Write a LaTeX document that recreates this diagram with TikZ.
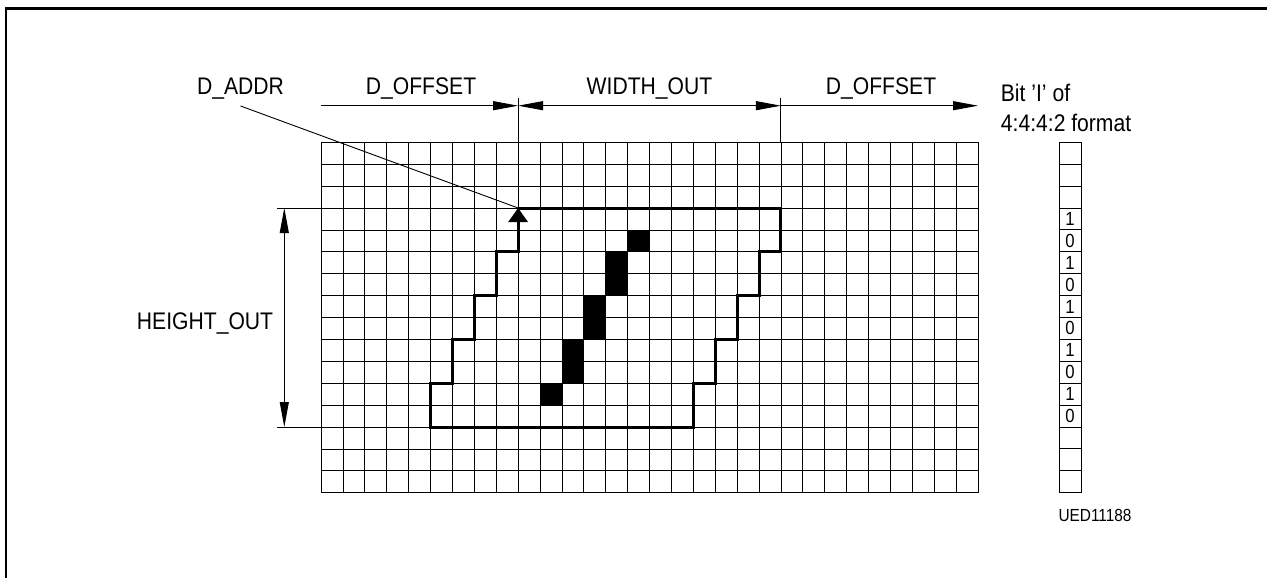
\documentclass[tikz,border=0pt]{standalone}
\usepackage{fontspec}
\setmainfont{Liberation Sans}[FakeStretch=0.88]
\usetikzlibrary{positioning, arrows.meta}

\begin{document}
\begin{tikzpicture}[
    x=1pt, y=-1pt,
    >={Triangle[length=25pt, width=9pt]},
    txt/.style={
        font=\fontsize{24}{30}\selectfont,
        inner sep=0pt
    },
    gridline/.style={
        line width=0.8pt
    },
    dimline/.style={
        line width=0.9pt
    },
    outline/.style={
        line width=3pt,
        line join=miter
    },
    bitbox/.style={
        rectangle,
        draw,
        line width=0.9pt,
        minimum width=21.9pt,
        minimum height=21.9pt,
        inner sep=0pt,
        font=\fontsize{19}{19}\selectfont
    }
]

% Page size and frame
\useasboundingbox (0,0) rectangle (1267,578);
\draw[line width=2.7pt] (6,578) -- (6,8.7) -- (1267,8.7);

% Labels
\node[txt, anchor=base] (daddr) at (240.5,95) {D\_ADDR};
\node[txt, anchor=base] (offsetl) at (421,95) {D\_OFFSET};
\node[txt, anchor=base] (widthout) at (649.5,95) {WIDTH\_OUT};
\node[txt, anchor=base] (offsetr) at (881,95) {D\_OFFSET};
\node[txt, anchor=base east] (heightout) at (273.3,329.3) {HEIGHT\_OUT};

% Pixel grid
\begin{scope}[shift={(321,142.3)}, x=21.9pt, y=-21.9pt]
    \foreach \c in {0,...,30}
        \draw[gridline] (\c,0) -- (\c,16);
    \foreach \r in {0,...,16}
        \draw[gridline] (0,\r) -- (30,\r);
    % set pixels of the line
    \foreach \c/\r in {14/4, 13/5, 13/6, 12/7, 12/8, 11/9, 11/10, 10/11}
        \fill (\c,\r) rectangle ++(1,1);
    \coordinate (c0) at (0,0);
    \coordinate (c9) at (9,0);
    \coordinate (c21) at (21,0);
    \coordinate (c30) at (30,0);
    \coordinate (r3) at (0,3);
    \coordinate (r13) at (0,13);
    \coordinate (addr) at (9,3);

    % D_ADDR pointer
    \draw[dimline] ([yshift=-6pt]daddr.south) -- (addr);

    % Output window
    \draw[outline, -{Triangle[length=14pt, width=19pt]}] (addr) -- (21,3) -- (21,5) -- (20,5)
        -- (20,7) -- (19,7) -- (19,9) -- (18,9) -- (18,11) -- (17,11) -- (17,13)
        -- (5,13) -- (5,11) -- (6,11) -- (6,9) -- (7,9) -- (7,7) -- (8,7)
        -- (8,5) -- (9,5) -- (addr);
\end{scope}

% Width dimensions
\coordinate (dimy) at (0,105.7);
\coordinate (ticky) at (0,98.3);
\draw[dimline] (c9) -- (c9 |- ticky);
\draw[dimline] (c21) -- (c21 |- ticky);
\draw[dimline, ->] (c0 |- dimy) -- (c9 |- dimy);
\draw[dimline, <->] (c9 |- dimy) -- (c21 |- dimy);
\draw[dimline, ->] (c21 |- dimy) -- (c30 |- dimy);

% Height dimension
\coordinate (dimx) at (284.3,0);
\coordinate (tickx) at (277.3,0);
\draw[dimline] (r3) -- (r3 -| tickx);
\draw[dimline] (r13) -- (r13 -| tickx);
\draw[dimline, <->] (r3 -| dimx) -- (r13 -| dimx);

% Bit column
\foreach \v [count=\i from 0] in {{},{},{},1,0,1,0,1,0,1,0,1,0,{},{},{}}
    \node[bitbox] (bit\i) at (1070, 153.25+21.9*\i) {\v};
\node[txt, anchor=north west, align=left] (bitlabel) at (1000.7,84) {Bit ’I’ of\\4:4:4:2 format};
\node[anchor=base west, inner sep=0pt, font=\fontsize{17.5}{20}\selectfont] (ued) at (1058.3,521.7) {UED11188};

\end{tikzpicture}
\end{document}
